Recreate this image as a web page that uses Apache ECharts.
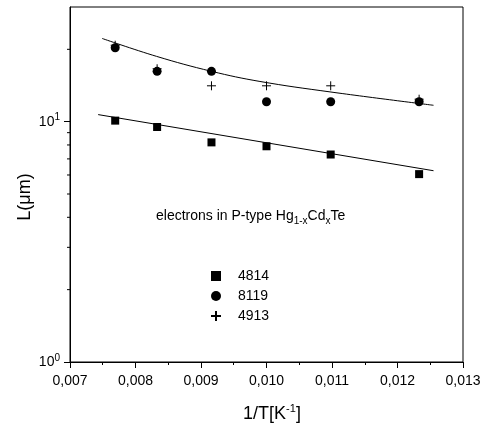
<!DOCTYPE html>
<html><head><meta charset="utf-8">
<script src="https://cdn.jsdelivr.net/npm/echarts@6/dist/echarts.min.js"></script>
<style>html,body{margin:0;padding:0;background:#fff}#c{width:490px;height:426px}</style>
</head><body><div id="c"></div>
<script>
const xVals = [0.00769, 0.00833, 0.00916, 0.0100, 0.01098, 0.01233];
const s4814 = [10.1, 9.5, 8.2, 7.9, 7.3, 6.05];
const s8119 = [20.3, 16.2, 16.2, 12.1, 12.1, 12.1];
const s4913 = [20.8, 16.6, 14.1, 14.1, 14.1, 12.4];
const fitUpX = [0.00749, 0.00832, 0.00916, 0.0099, 0.01097, 0.01255];
const fitUpY = [22.2, 18.7, 16.2, 14.7, 13.3, 11.7];
const fitLowX = [0.00743, 0.01255];
const fitLowY = [10.7, 6.25];
const yMinorTicks = [2, 3, 4, 5, 6, 7, 8, 9, 20];
const seriesNames = ['4814', '8119', '4913'];

const FONT = 'Liberation Sans, Arial, sans-serif';
const zip = (xs, ys) => xs.map((x, i) => [x, ys[i]]);
const plusPath = 'path://M0,5L10,5M5,0L5,10';

const chart = echarts.init(document.getElementById('c'), null, {renderer: 'canvas'});
chart.setOption({
  animation: false,
  backgroundColor: '#fff',
  textStyle: {fontFamily: FONT, color: '#000'},
  grid: {left: 70, right: 27, top: 7, bottom: 64, outerBoundsMode: 'none', containLabel: false,
    show: true, borderColor: '#000', borderWidth: 1, backgroundColor: 'transparent'},
  legend: {
    data: seriesNames,
    orient: 'vertical',
    left: 210, top: 269, padding: 0,
    itemWidth: 10, itemHeight: 10, itemGap: 6,
    textStyle: {fontSize: 14, fontFamily: FONT, color: '#000', padding: [0, 0, 0, 12]}
  },
  xAxis: {
    type: 'value', min: 0.007, max: 0.013, interval: 0.001,
    axisLine: {lineStyle: {color: '#000', width: 1}},
    axisTick: {show: true, inside: false, length: 6, lineStyle: {color: '#000'}},
    minorTick: {show: true, splitNumber: 2, length: 3, lineStyle: {color: '#000'}},
    splitLine: {show: false},
    axisLabel: {fontSize: 14, color: '#000', fontFamily: FONT, margin: 12,
      formatter: v => v.toFixed(3).replace('.', ',')}
  },
  yAxis: {
    type: 'log', logBase: 10, min: 1, max: 30,
    axisLine: {lineStyle: {color: '#000', width: 1}},
    axisTick: {show: true, inside: false, length: 6, lineStyle: {color: '#000'}},
    splitLine: {show: false},
    axisLabel: {
      showMaxLabel: false, margin: 10,
      formatter: v => (Math.abs(v - 1) < 1e-9 ? '{b|10}{s|0}' : (Math.abs(v - 10) < 1e-6 ? '{b|10}{s|1}' : '')),
      rich: {
        b: {fontSize: 14, fontFamily: FONT, color: '#000'},
        s: {fontSize: 10, fontFamily: FONT, color: '#000', verticalAlign: 'top', padding: [0, 0, 8, 0]}
      }
    }
  },
  graphic: [{
    type: 'text', left: 156, top: 209,
    style: {
      text: '{a|electrons in P-type Hg}{s|1-x}{a|Cd}{s|x}{a|Te}',
      rich: {
        a: {fontSize: 14, fontFamily: FONT, fill: '#000'},
        s: {fontSize: 10, fontFamily: FONT, fill: '#000', verticalAlign: 'bottom', padding: [10, 0, 0, 0]}
      }
    }
  }, {
    type: 'text', x: 25, y: 197, rotation: Math.PI / 2,
    style: {text: 'L(\u03bcm)', fontSize: 18, fontFamily: FONT, fill: '#000', align: 'center', verticalAlign: 'middle'}
  }, {
    type: 'text', x: 272, y: 414,
    style: {
      text: '{a|1/T[K}{s|-1}{a|]}', align: 'center', verticalAlign: 'middle',
      rich: {
        a: {fontSize: 18, fontFamily: FONT, fill: '#000'},
        s: {fontSize: 11, fontFamily: FONT, fill: '#000', verticalAlign: 'top', padding: [0, 0, 10, 0]}
      }
    }
  }],
  series: [
    {type: 'custom', name: 'ytick', silent: true, clip: false, coordinateSystem: 'cartesian2d',
      data: yMinorTicks.map(v => [0.007, v]),
      renderItem: (params, api) => {
        const p = api.coord([api.value(0), api.value(1)]);
        return {type: 'line', shape: {x1: p[0] - 3, y1: p[1], x2: p[0], y2: p[1]}, style: {stroke: '#000', lineWidth: 1}};
      }},
    {type: 'line', name: 'fitUp', data: zip(fitUpX, fitUpY), smooth: 0.4, showSymbol: false, symbol: 'none',
      lineStyle: {color: '#000', width: 1}, silent: true},
    {type: 'line', name: 'fitLow', data: zip(fitLowX, fitLowY), showSymbol: false, symbol: 'none',
      lineStyle: {color: '#000', width: 1}, silent: true},
    {type: 'scatter', name: '4814', data: zip(xVals, s4814), symbol: 'rect', symbolSize: 8,
      itemStyle: {color: '#000', opacity: 1}},
    {type: 'scatter', name: '8119', data: zip(xVals, s8119), symbol: 'circle', symbolSize: 9,
      itemStyle: {color: '#000', opacity: 1}},
    {type: 'scatter', name: '4913', data: zip(xVals, s4913), symbol: plusPath, symbolSize: 9,
      itemStyle: {color: 'transparent', borderColor: '#000', borderWidth: 1, opacity: 1}}
  ]
});
</script></body></html>
